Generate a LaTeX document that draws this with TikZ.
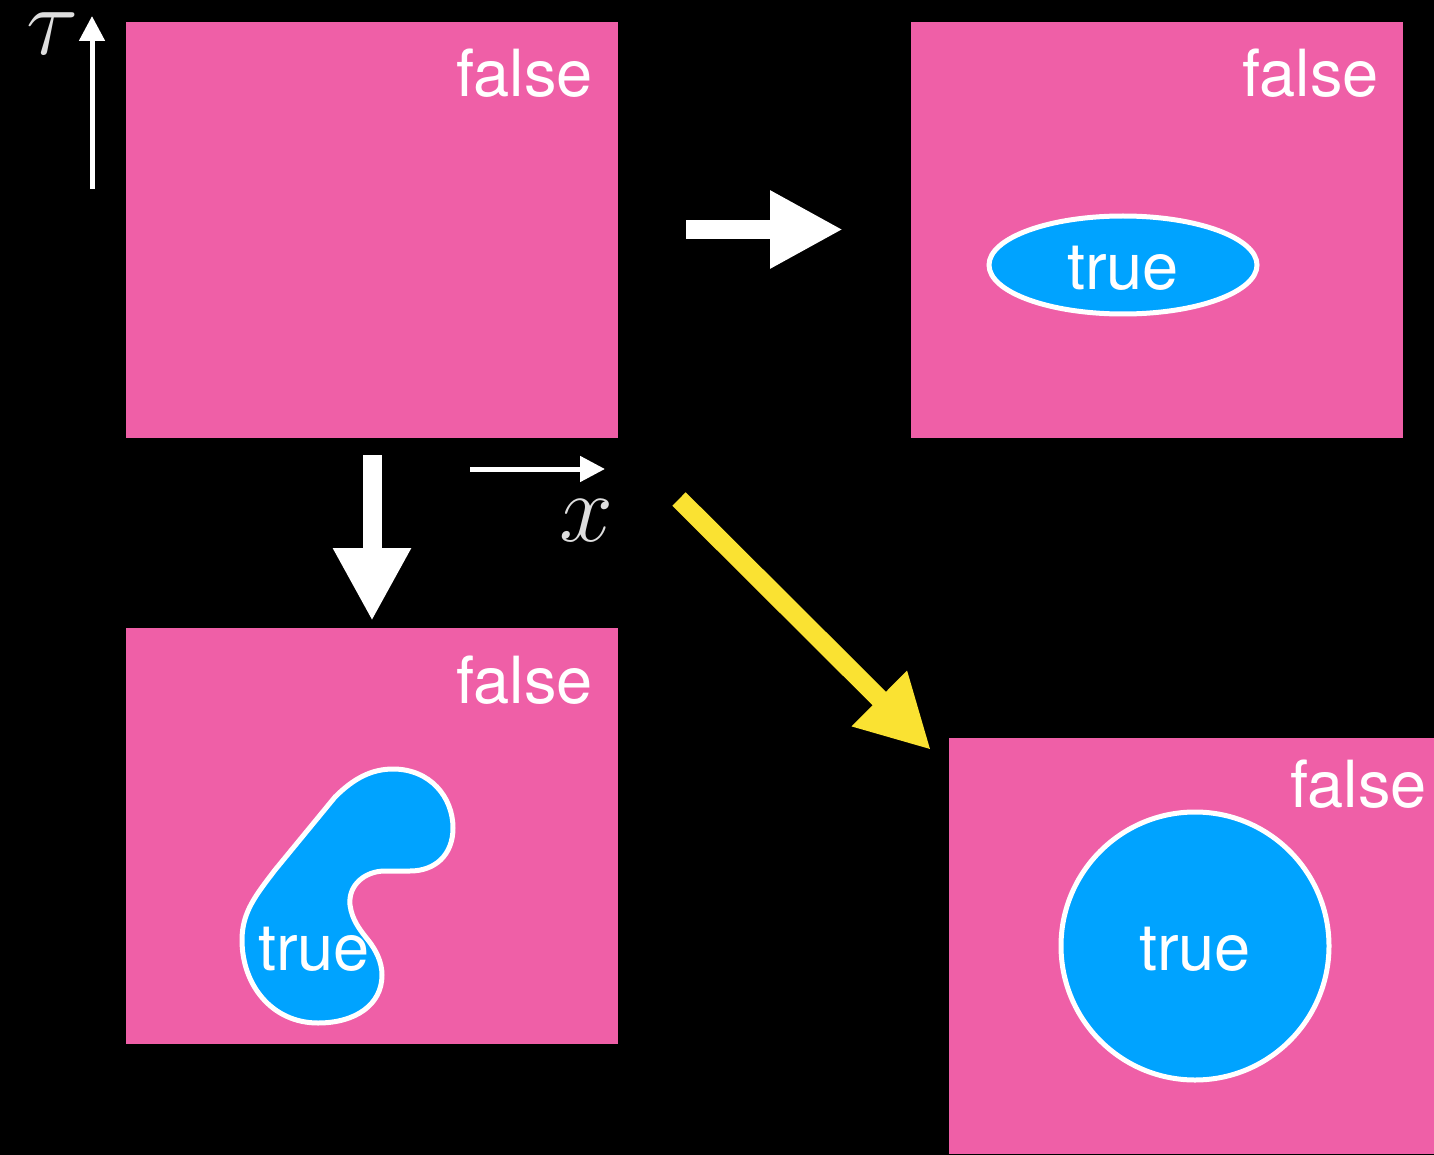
\RequirePackage{fix-cm}
\documentclass[tikz,border=0pt]{standalone}
\usepackage[no-math]{fontspec}
\setmainfont{TeX Gyre Heros}
\usetikzlibrary{arrows.meta,shapes.geometric}

\definecolor{pinkc}{RGB}{239,95,167}
\definecolor{bluec}{RGB}{0,163,255}
\definecolor{yellowc}{RGB}{250,226,50}
\definecolor{labelgray}{RGB}{222,222,222}

\tikzset{
  panel/.style={fill=pinkc, draw=none, inner sep=0pt, outer sep=0pt,
    minimum width=492pt, minimum height=416pt, anchor=north west},
  region/.style={fill=bluec, draw=white, line width=5pt},
  word/.style={text=white, inner sep=0pt, font=\fontsize{65pt}{72pt}\selectfont},
  axislabel/.style={text=labelgray, inner sep=0pt, font=\fontsize{97pt}{100pt}\selectfont},
  bigarrow/.style={line width=19pt, -{Triangle[length=73pt,width=73pt]}},
  axisarrow/.style={white, line width=5pt, -{Triangle[length=25pt,width=25pt]}}
}

\begin{document}
\begin{tikzpicture}[x=1pt, y=-1pt]
  % page background
  \fill[black] (0,0) rectangle (1434,1155);
  \useasboundingbox (0,0) rectangle (1434,1155);
  \clip (0,0) rectangle (1434,1155);

  % the four panels
  \node[panel] (p1) at (126,22) {};
  \node[panel] (p2) at (911,22) {};
  \node[panel] (p3) at (126,628) {};
  \node[panel] (p4) at (949,738) {};

  \node[word, anchor=base east] (f1) at (593,97) {false};
  \node[word, anchor=base east] (f2) at (1379,97) {false};
  \node[word, anchor=base east] (f3) at (593,703) {false};
  \node[word, anchor=base east] (f4) at (1427,807) {false};

  % true regions
  \node[region, ellipse, minimum width=268pt, minimum height=98pt, inner sep=0pt] (e2) at (1123,265) {};
  \node[word, anchor=base] (t2) at (1123,290) {true};

  \node[region, circle, minimum size=268pt, inner sep=0pt] (c4) at (1195,946) {};
  \node[word, anchor=base] (t4) at (1195,970) {true};

  \path[region] (393,769)
    .. controls (430,769) and (453,797) .. (453,828)
    .. controls (453,855) and (435,871) .. (410,871)
    -- (385,871)
    .. controls (365,871) and (348,885) .. (350,905)
    .. controls (352,920) and (360,930) .. (368,940)
    .. controls (376,950) and (382,962) .. (382,975)
    .. controls (382,1005) and (355,1023) .. (318,1023)
    .. controls (272,1023) and (242,985) .. (242,940)
    .. controls (242,912) and (256,895) .. (275,870)
    -- (335,797)
    .. controls (354,778) and (372,769) .. (393,769) -- cycle;
  \node[word, anchor=base] (t3) at (314,970) {true};

  % axes
  \coordinate (tau0) at (92,189);
  \coordinate (tau1) at (92,16);
  \draw[axisarrow] (tau0) -- (tau1);
  \node[axislabel, anchor=base west] (taulab) at (26,55) {$\tau$};

  \coordinate (xa0) at (470,469);
  \coordinate (xa1) at (605,469);
  \draw[axisarrow] (xa0) -- (xa1);
  \node[axislabel, anchor=base west] (xlab) at (559,541) {$x$};

  % transitions between panels
  \coordinate (r0) at (686,229.5);
  \coordinate (r1) at (843,229.5);
  \draw[bigarrow, white] (r0) -- (r1);

  \coordinate (d0) at (372,455);
  \coordinate (d1) at (372,621);
  \draw[bigarrow, white] (d0) -- (d1);

  \coordinate (y0) at (679,499);
  \coordinate (y1) at (931,750);
  \draw[bigarrow, yellowc] (y0) -- (y1);
\end{tikzpicture}
\end{document}
